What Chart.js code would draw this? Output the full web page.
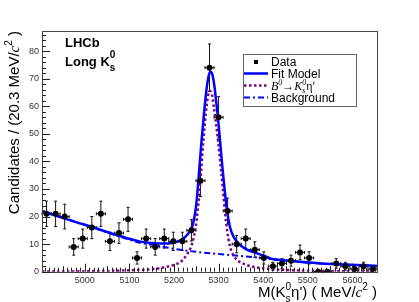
<!DOCTYPE html>
<html>
<head>
<meta charset="utf-8">
<script src="https://cdn.jsdelivr.net/npm/chart.js@4.4.1/dist/chart.umd.min.js"></script>
<style>
html, body { margin: 0; padding: 0; background: #fff; }
#wrap { width: 419px; height: 302px; }
</style>
</head>
<body>
<div id="wrap"><canvas id="chart" width="419" height="302"></canvas></div>
<script>
// mass bins of 20.3 MeV/c^2 (centres) and the candidates in each
const binCenters = [4914.2, 4934.5, 4954.8, 4975.1, 4995.4, 5015.7, 5036.0, 5056.3, 5076.6, 5096.9,
                    5117.2, 5137.5, 5157.8, 5178.1, 5198.4, 5218.7, 5239.0, 5259.3, 5279.6, 5299.9,
                    5320.2, 5340.5, 5360.8, 5381.1, 5401.4, 5421.7, 5442.0, 5462.3, 5482.6, 5502.9,
                    5523.2, 5543.5, 5563.8, 5584.1, 5604.4, 5624.7, 5645.0];
const counts = [21, 21, 20, 9, 12, 16, 21, 11, 14, 19,
                5, 12, 9, 12, 11, 11, 15, 33, 74, 56,
                22, 10, 12, 8, 5, 2, 3, 4, 7, 5,
                0, 0, 3, 2, 1, 2, 1];
const halfBin = 10.15;

// fit model (total)
const fitMass = [4904, 4940, 4980, 5015, 5050, 5090, 5124, 5150, 5175, 5195, 5212, 5225, 5235, 5242, 5248,
                 5252, 5257, 5262, 5267, 5272, 5277, 5281, 5285, 5290, 5295, 5299, 5304, 5309, 5314,
                 5319, 5325, 5333, 5345, 5360, 5380, 5400, 5416, 5450, 5490, 5530, 5565, 5610, 5655.1];
const fitVal  = [22.0, 20.1, 18.0, 16.3, 14.4, 12.4, 10.9, 10.4, 10.2, 10.4, 11.2, 12.6, 14.5, 17, 22,
                 28, 38, 48, 57, 65, 70.5, 72.5, 72, 68, 61, 55, 46, 37, 29,
                 22, 16.5, 12.8, 10.2, 8.3, 7.0, 5.9, 4.8, 4.1, 3.5, 3.0, 2.7, 2.4, 2.1];

// signal B0 -> K0s eta'
const sigMass = [4904, 5000, 5100, 5150, 5176, 5200, 5215, 5228, 5238, 5245, 5251, 5256, 5261, 5266, 5271,
                 5276, 5280, 5284, 5289, 5294, 5299, 5304, 5309, 5314, 5319, 5325, 5333, 5345, 5360,
                 5380, 5400, 5450, 5500, 5560, 5655.1];
const sigVal  = [0.05, 0.15, 0.5, 0.9, 1.5, 2.5, 3.6, 6, 9, 13, 19, 27, 37, 48, 57,
                 63.5, 65.5, 65, 60, 54, 47, 39, 31, 22, 15, 9.5, 6, 3.8, 2.6,
                 1.7, 1.2, 0.6, 0.35, 0.2, 0.1];

// background
const bkgMass = [4904, 4940, 4980, 5015, 5050, 5090, 5124, 5157, 5200, 5250, 5300, 5350, 5400, 5416, 5450,
                 5490, 5530, 5565, 5610, 5655.1];
const bkgVal  = [22.0, 20.1, 18.0, 16.2, 14.3, 12.1, 10.5, 9.6, 8.3, 7.2, 6.4, 5.7, 4.9, 4.6, 4.0,
                 3.4, 3.0, 2.7, 2.4, 2.1];

const xTicks = [5000, 5100, 5200, 5300, 5400, 5500, 5600];
const xTickLabels = ['5000', '5100', '5200', '5300', '5400', '5500', '5600'];
const yTicks = [0, 10, 20, 30, 40, 50, 60, 70, 80];
const yTickLabels = ['0', '10', '20', '30', '40', '50', '60', '70', '80'];

const SANS = '"Liberation Sans", Arial, sans-serif';
const SERIF = '"Liberation Serif", "Times New Roman", serif';

function pairs(xs, ys) {
    return xs.map((x, i) => ({ x: x, y: ys[i] }));
}

// draws text pieces one after another; {sup, sub} pieces are stacked
function drawRich(ctx, x, y, parts, dry) {
    let cx = x;
    for (const p of parts) {
        ctx.font = p.font;
        if (p.t !== undefined) {
            if (!dry) ctx.fillText(p.t, cx, y + (p.dy || 0));
            cx += ctx.measureText(p.t).width;
        } else {
            let w = 0;
            if (p.sup) {
                if (!dry) ctx.fillText(p.sup, cx, y + p.supDy);
                w = Math.max(w, ctx.measureText(p.sup).width);
            }
            if (p.sub) {
                if (!dry) ctx.fillText(p.sub, cx, y + p.subDy);
                w = Math.max(w, ctx.measureText(p.sub).width);
            }
            cx += w;
        }
    }
    return cx - x;
}

const rootStyle = {
    id: 'rootStyle',
    beforeDatasetsDraw(chart) {
        const ctx = chart.ctx;
        const xs = chart.scales.x, ys = chart.scales.y;
        ctx.save();
        ctx.strokeStyle = '#111';
        ctx.lineWidth = 1;
        ctx.beginPath();
        binCenters.forEach((m, i) => {
            const n = counts[i];
            const px = xs.getPixelForValue(m);
            const py = ys.getPixelForValue(n);
            const x1 = xs.getPixelForValue(m - halfBin);
            const x2 = xs.getPixelForValue(m + halfBin);
            ctx.moveTo(x1, py); ctx.lineTo(x2, py);
            ctx.moveTo(x1, py - 1.5); ctx.lineTo(x1, py + 1.5);
            ctx.moveTo(x2, py - 1.5); ctx.lineTo(x2, py + 1.5);
            if (n > 0) {
                const e = Math.sqrt(n);
                const yTop = ys.getPixelForValue(n + e);
                const yBot = ys.getPixelForValue(Math.max(n - e, 0));
                ctx.moveTo(px, yTop); ctx.lineTo(px, yBot);
                ctx.moveTo(px - 1.5, yTop); ctx.lineTo(px + 1.5, yTop);
                ctx.moveTo(px - 1.5, yBot); ctx.lineTo(px + 1.5, yBot);
            }
        });
        ctx.stroke();
        ctx.restore();
    },
    afterDraw(chart) {
        const ctx = chart.ctx;
        const a = chart.chartArea;
        const xs = chart.scales.x, ys = chart.scales.y;
        ctx.save();

        // frame
        ctx.strokeStyle = '#444';
        ctx.lineWidth = 1;
        ctx.strokeRect(Math.round(a.left) + 0.5, Math.round(a.top) + 0.5,
                       Math.round(a.right - a.left), Math.round(a.bottom - a.top));

        // ticks pointing into the frame
        ctx.strokeStyle = '#222';
        ctx.beginPath();
        for (let m = 4910; m <= 5650; m += 10) {
            const px = Math.round(xs.getPixelForValue(m)) + 0.5;
            const len = m % 100 === 0 ? 8 : (m % 50 === 0 ? 5.5 : 4);
            ctx.moveTo(px, a.bottom); ctx.lineTo(px, a.bottom - len);
        }
        for (let v = 0; v <= 86; v += 2) {
            const py = Math.round(ys.getPixelForValue(v)) + 0.5;
            const len = v % 10 === 0 ? 8 : 4;
            ctx.moveTo(a.left, py); ctx.lineTo(a.left + len, py);
        }
        ctx.stroke();

        ctx.fillStyle = '#000';
        ctx.textBaseline = 'alphabetic';

        // y title, rotated, right aligned at the top of the axis
        const yParts = [
            { t: 'Candidates / (20.3 MeV/', font: '15px ' + SANS },
            { t: 'c', font: 'italic 15px ' + SERIF },
            { t: '2', font: '10px ' + SANS, dy: -7 },
            { t: ' )', font: '15px ' + SANS }
        ];
        ctx.save();
        ctx.translate(19, a.top);
        ctx.rotate(-Math.PI / 2);
        const yw = drawRich(ctx, 0, 0, yParts, true);
        drawRich(ctx, -yw, 0, yParts);
        ctx.restore();

        // x title, right aligned at the end of the axis
        const xParts = [
            { t: 'M(K', font: '15px ' + SANS },
            { sup: '0', supDy: -7, sub: 's', subDy: 5, font: '10px ' + SANS },
            { t: 'η\') ( MeV/', font: '15px ' + SANS },
            { t: 'c', font: 'italic 15px ' + SERIF },
            { t: '2', font: '10px ' + SANS, dy: -7 },
            { t: ' )', font: '15px ' + SANS }
        ];
        const xw = drawRich(ctx, 0, 0, xParts, true);
        drawRich(ctx, a.right - xw, 297, xParts);

        // experiment label
        ctx.font = 'bold 13px ' + SANS;
        ctx.fillText('LHCb', 65, 47);
        drawRich(ctx, 65, 66, [
            { t: 'Long K', font: 'bold 13px ' + SANS },
            { sup: '0', supDy: -8, sub: 's', subDy: 5, font: 'bold 10px ' + SANS }
        ]);

        // legend
        const lx = 243, ly = 54, lw = 113, lh = 52;
        ctx.fillStyle = '#fff';
        ctx.fillRect(lx, ly, lw, lh);
        ctx.strokeStyle = '#666';
        ctx.strokeRect(lx + 0.5, ly + 0.5, lw, lh);
        const rows = [62, 73.5, 85.5, 97.5];
        const x0 = 244, x1 = 268, tx = 271;

        ctx.fillStyle = '#000';
        ctx.fillRect(254, rows[0] - 2, 4, 4);

        ctx.lineWidth = 2.5;
        ctx.strokeStyle = '#0000ff';
        ctx.setLineDash([]);
        ctx.beginPath(); ctx.moveTo(x0, rows[1]); ctx.lineTo(x1, rows[1]); ctx.stroke();

        ctx.strokeStyle = '#800080';
        ctx.setLineDash([2.5, 2.5]);
        ctx.beginPath(); ctx.moveTo(x0, rows[2]); ctx.lineTo(x1, rows[2]); ctx.stroke();

        ctx.lineWidth = 2;
        ctx.strokeStyle = '#0000ff';
        ctx.setLineDash([6, 3, 2, 3]);
        ctx.beginPath(); ctx.moveTo(x0, rows[3]); ctx.lineTo(x1, rows[3]); ctx.stroke();
        ctx.setLineDash([]);

        ctx.fillStyle = '#000';
        ctx.font = '12px ' + SANS;
        ctx.fillText('Data', tx, rows[0] + 4);
        ctx.fillText('Fit Model', tx, rows[1] + 4);
        drawRich(ctx, tx, rows[2] + 4, [
            { t: 'B', font: 'italic 12px ' + SERIF },
            { t: '0', font: 'italic 8px ' + SERIF, dy: -5 },
            { t: '\u2192', font: '12px ' + SERIF },
            { t: 'K', font: 'italic 12px ' + SERIF },
            { sup: '0', supDy: -5, sub: 's', subDy: 3, font: 'italic 8px ' + SERIF },
            { t: '\u03b7\u2032', font: '12px ' + SERIF }
        ]);
        ctx.font = '12px ' + SANS;
        ctx.fillText('Background', tx, rows[3] + 4);

        ctx.restore();
    }
};

const ctx = document.getElementById('chart').getContext('2d');
const chart = new Chart(ctx, {
    type: 'scatter',
    data: {
        datasets: [
            {
                label: 'Data',
                data: pairs(binCenters, counts),
                backgroundColor: '#000',
                borderColor: '#000',
                pointRadius: 3,
                pointBorderWidth: 0,
                showLine: false
            },
            {
                label: 'Fit Model',
                data: pairs(fitMass, fitVal),
                borderColor: '#0000ff',
                borderWidth: 2.5,
                showLine: true,
                pointRadius: 0,
                cubicInterpolationMode: 'monotone'
            },
            {
                label: 'Signal',
                data: pairs(sigMass, sigVal),
                borderColor: '#800080',
                borderWidth: 2.5,
                borderDash: [2.5, 2.5],
                showLine: true,
                pointRadius: 0,
                cubicInterpolationMode: 'monotone'
            },
            {
                label: 'Background',
                data: pairs(bkgMass, bkgVal),
                borderColor: '#0000ff',
                borderWidth: 2,
                borderDash: [6, 3, 2, 3],
                showLine: true,
                pointRadius: 0,
                cubicInterpolationMode: 'monotone'
            }
        ]
    },
    options: {
        responsive: false,
        animation: false,
        devicePixelRatio: 1,
        layout: { padding: { left: 0, top: 31, right: 42, bottom: 0 } },
        plugins: {
            legend: { display: false },
            tooltip: { enabled: false }
        },
        scales: {
            x: {
                type: 'linear',
                min: 4904,
                max: 5655.1,
                grid: { display: false, drawTicks: false },
                border: { display: false },
                afterBuildTicks: axis => { axis.ticks = xTicks.map(v => ({ value: v })); },
                afterFit: axis => { axis.height = 30.3; },
                ticks: {
                    color: '#333',
                    font: { family: SANS, size: 9 },
                    padding: 3,
                    maxRotation: 0,
                    callback: (v, i) => xTickLabels[i]
                }
            },
            y: {
                type: 'linear',
                min: 0,
                max: 87.3,
                grid: { display: false, drawTicks: false },
                border: { display: false },
                afterBuildTicks: axis => { axis.ticks = yTicks.map(v => ({ value: v })); },
                afterFit: axis => { axis.width = 42; },
                ticks: {
                    color: '#333',
                    font: { family: SANS, size: 9 },
                    padding: 3,
                    callback: (v, i) => yTickLabels[i]
                }
            }
        }
    },
    plugins: [rootStyle]
});
</script>
</body>
</html>
